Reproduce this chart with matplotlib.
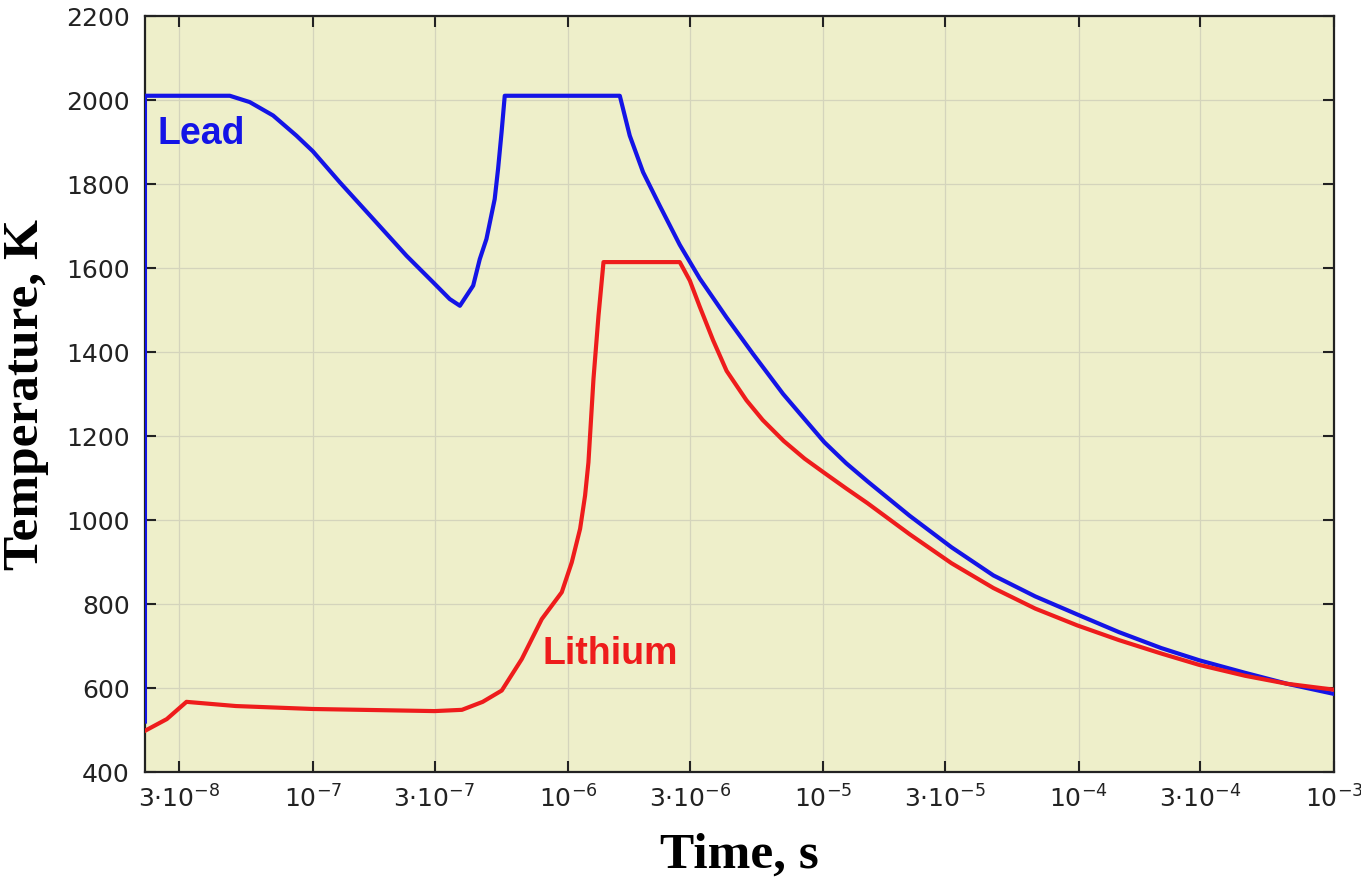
import numpy as np
import matplotlib
matplotlib.use("Agg")
import matplotlib.pyplot as plt
from matplotlib.ticker import FixedLocator, FixedFormatter, NullLocator

# Lead temperature history (time in s, temperature in K)
lead_time = [2.2e-8, 2.2e-8, 4.73e-8, 5.66e-8, 6.99e-8, 8.63e-8, 1.0e-7,
             1.276e-7, 1.722e-7, 2.33e-7, 2.96e-7, 3.44e-7, 3.77e-7, 4.25e-7,
             4.51e-7, 4.79e-7, 5.16e-7, 5.32e-7, 5.49e-7, 5.65e-7, 1.595e-6,
             1.745e-6, 1.968e-6, 2.288e-6, 2.74e-6, 3.28e-6, 4.18e-6, 5.31e-6,
             6.96e-6, 8.45e-6, 1.01e-5, 1.23e-5, 1.49e-5, 2.18e-5, 3.18e-5,
             4.64e-5, 6.77e-5, 9.89e-5, 1.44e-4, 2.11e-4, 2.97e-4, 4.5e-4,
             6.57e-4, 1.0e-3]
lead_temp = [520, 2010, 2010, 1995, 1963, 1915, 1878,
             1804, 1717, 1629, 1566, 1526, 1510, 1558,
             1621, 1669, 1764, 1836, 1923, 2010, 2010,
             1915, 1828, 1748, 1655, 1575, 1482, 1395,
             1300, 1240, 1185, 1135, 1092, 1010, 935,
             868, 818, 775, 733, 695, 666, 636,
             610, 586]

# Lithium temperature history
lith_time = [2.2e-8, 2.68e-8, 3.2e-8, 5.0e-8, 1.0e-7, 3.0e-7, 3.84e-7, 4.63e-7,
             5.5e-7, 6.59e-7, 7.89e-7, 9.45e-7, 1.034e-6, 1.115e-6, 1.166e-6,
             1.202e-6, 1.258e-6, 1.316e-6, 1.377e-6, 2.74e-6, 3.0e-6, 3.28e-6,
             3.7e-6, 4.18e-6, 5.0e-6, 5.79e-6, 7.0e-6, 8.45e-6, 1.01e-5,
             1.23e-5, 1.49e-5, 2.18e-5, 3.18e-5, 4.64e-5, 6.77e-5, 9.89e-5,
             1.44e-4, 2.11e-4, 2.97e-4, 4.5e-4, 6.57e-4, 1.0e-3]
lith_temp = [498, 526, 567, 557, 550, 545, 548, 567,
             594, 669, 764, 828, 899, 979, 1058,
             1137, 1336, 1486, 1614, 1614, 1570, 1508,
             1428, 1355, 1285, 1238, 1188, 1146, 1112,
             1075, 1040, 966, 897, 838, 789, 749,
             714, 682, 655, 629, 610, 596]

x_ticks = [3e-8, 1e-7, 3e-7, 1e-6, 3e-6, 1e-5, 3e-5, 1e-4, 3e-4, 1e-3]
x_tick_labels = [r"$3{\cdot}10^{-8}$", r"$10^{-7}$", r"$3{\cdot}10^{-7}$",
                 r"$10^{-6}$", r"$3{\cdot}10^{-6}$", r"$10^{-5}$",
                 r"$3{\cdot}10^{-5}$", r"$10^{-4}$", r"$3{\cdot}10^{-4}$",
                 r"$10^{-3}$"]
y_ticks = list(range(400, 2201, 200))

plt.rcParams["mathtext.default"] = "regular"
plt.rcParams["mathtext.fontset"] = "dejavusans"

fig = plt.figure(figsize=(13.61, 8.79), dpi=100)
ax = fig.add_axes([0.1065, 0.1206, 0.8735, 0.8601])
ax.set_facecolor("#eeefca")

ax.plot(lead_time, lead_temp, color="#1414e6", lw=3.0, solid_joinstyle="round", zorder=3)
ax.plot(lith_time, lith_temp, color="#ee1c1c", lw=3.0, solid_joinstyle="round", zorder=3)

ax.set_xscale("log")
ax.set_xlim(2.2e-8, 1e-3)
ax.set_ylim(400, 2200)

ax.xaxis.set_major_locator(FixedLocator(x_ticks))
ax.xaxis.set_major_formatter(FixedFormatter(x_tick_labels))
ax.xaxis.set_minor_locator(NullLocator())
ax.set_yticks(y_ticks)

ax.tick_params(direction="in", length=8, width=1.5, top=True, right=True,
               labelsize=18, colors="#222222")
ax.tick_params(axis="x", pad=9)
ax.tick_params(axis="y", pad=11)
for lbl in ax.get_xticklabels() + ax.get_yticklabels():
    lbl.set_family("DejaVu Sans")

ax.grid(True, color="#d4d4bc", lw=0.9, zorder=0)
for sp in ax.spines.values():
    sp.set_linewidth(1.6)
    sp.set_color("#222222")

ax.set_xlabel("Time, s", fontsize=37, fontweight="bold", family="Liberation Serif", labelpad=14)
ax.set_ylabel("Temperature, K", fontsize=37, fontweight="bold", family="Liberation Serif", labelpad=12)

ax.text(2.47e-8, 1922, "Lead", color="#1414e6", fontsize=27, fontweight="bold",
        family="Liberation Sans", ha="left", va="center")
ax.text(7.96e-7, 683, "Lithium", color="#ee1c1c", fontsize=27, fontweight="bold",
        family="Liberation Sans", ha="left", va="center")

fig.savefig("out.png", dpi=100)
